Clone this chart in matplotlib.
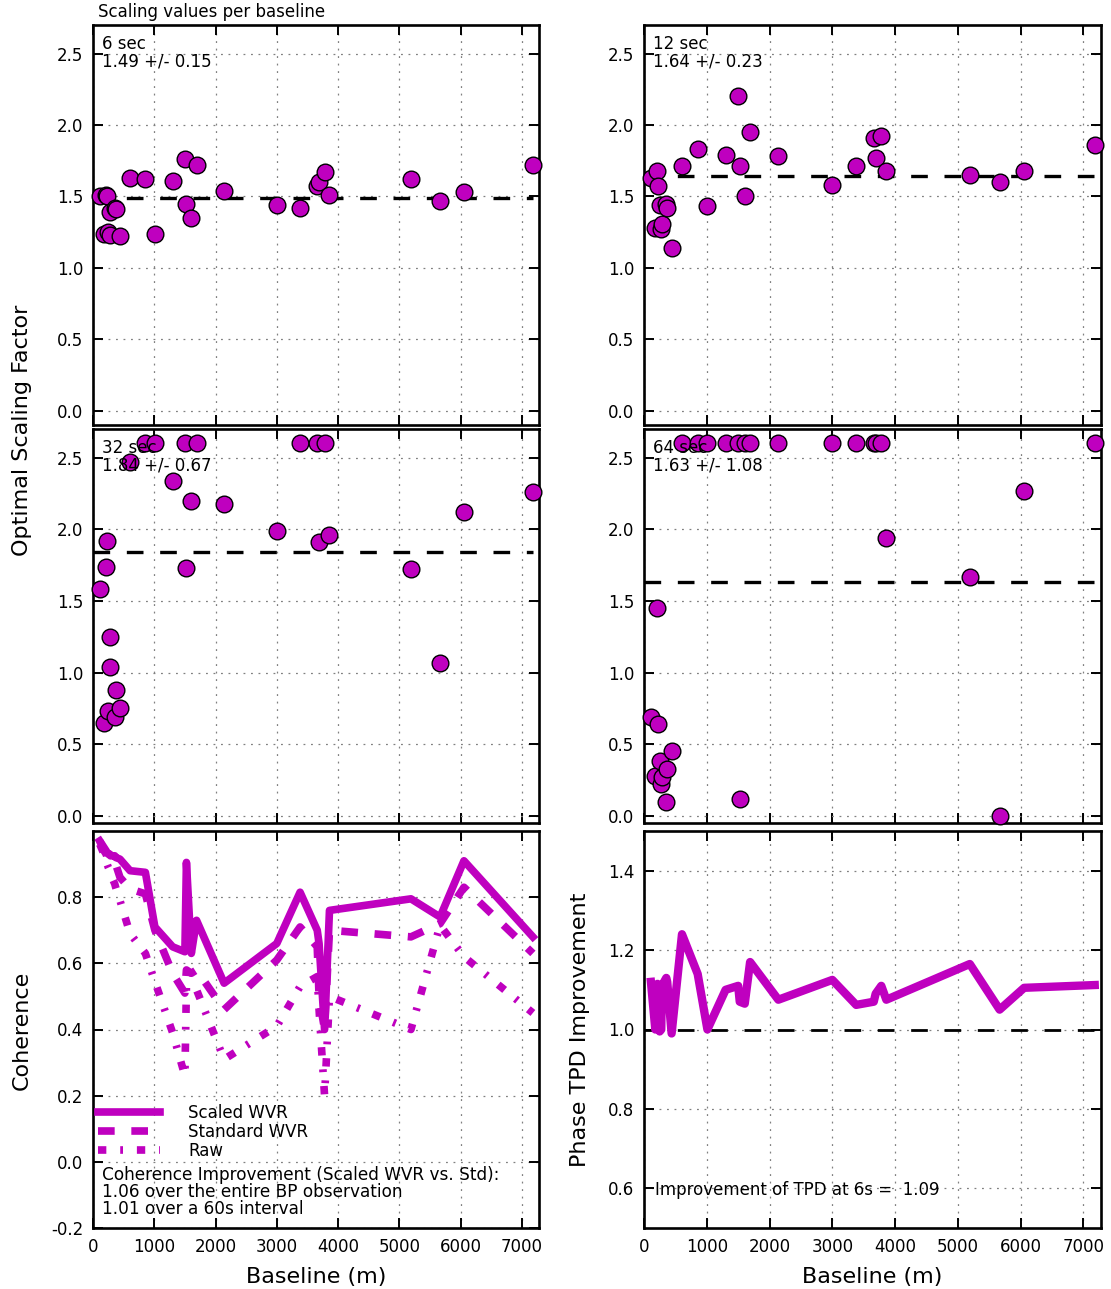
import numpy as np
import matplotlib
matplotlib.use("Agg")
import matplotlib.pyplot as plt

plt.rcParams["axes.unicode_minus"] = False

# ---------------- data ----------------
baselines = [110, 180, 215, 230, 250, 275, 285, 355, 370, 440, 605, 855, 1010, 1300,
             1500, 1525, 1605, 1690, 2140, 3000, 3380, 3660, 3690, 3780, 3860, 5190,
             5665, 6055, 7180]

scale_6s = [1.50, 1.24, 1.51, 1.50, 1.25, 1.39, 1.23, 1.42, 1.41, 1.22, 1.63, 1.62, 1.24, 1.61,
            1.76, 1.45, 1.35, 1.72, 1.54, 1.44, 1.42, 1.57, 1.60, 1.67, 1.51, 1.62, 1.47,
            1.53, 1.72]
scale_12s = [1.63, 1.28, 1.68, 1.57, 1.44, 1.27, 1.31, 1.45, 1.42, 1.14, 1.71, 1.83, 1.43, 1.79,
             2.20, 1.71, 1.50, 1.95, 1.78, 1.58, 1.71, 1.91, 1.77, 1.92, 1.68, 1.65, 1.60,
             1.68, 1.86]
scale_32s = [1.58, 0.65, 1.74, 1.92, 0.73, 1.25, 1.04, 0.69, 0.875, 0.75, 2.47, 2.60, 2.60, 2.34,
             2.60, 1.73, 2.20, 2.60, 2.18, 1.99, 2.60, 2.60, 1.91, 2.60, 1.96, 1.72, 1.07,
             2.12, 2.26]
scale_64s = [0.69, 0.28, 1.45, 0.64, 0.38, 0.22, 0.27, 0.10, 0.33, 0.45, 2.60, 2.60, 2.60, 2.60,
             2.60, 0.12, 2.60, 2.60, 2.60, 2.60, 2.60, 2.60, 2.60, 2.60, 1.94, 1.67, 0.00,
             2.27, 2.60]

intervals = ["6 sec", "12 sec", "32 sec", "64 sec"]
means = [1.49, 1.64, 1.84, 1.63]
stds = [0.15, 0.23, 0.67, 1.08]

coh_scaled = [0.97, 0.95, 0.94, 0.935, 0.93, 0.93, 0.925, 0.925, 0.92, 0.915, 0.88, 0.875, 0.71,
              0.65, 0.635, 0.905, 0.63, 0.73, 0.54, 0.66, 0.815, 0.70, 0.66, 0.40, 0.76, 0.795,
              0.74, 0.91, 0.68]
coh_std = [0.97, 0.94, 0.93, 0.92, 0.92, 0.91, 0.91, 0.90, 0.90, 0.86, 0.825, 0.81, 0.70,
           0.57, 0.51, 0.58, 0.57, 0.58, 0.46, 0.61, 0.71, 0.65, 0.50, 0.40, 0.70, 0.68,
           0.72, 0.83, 0.63]
coh_raw = [0.96, 0.93, 0.91, 0.90, 0.89, 0.88, 0.87, 0.84, 0.83, 0.79, 0.69, 0.63, 0.545,
           0.39, 0.26, 0.53, 0.52, 0.52, 0.31, 0.41, 0.53, 0.56, 0.46, 0.20, 0.50, 0.40,
           0.715, 0.62, 0.45]
tpd_improvement = [1.12, 1.00, 1.115, 1.00, 0.995, 1.00, 1.11, 1.13, 1.12, 0.99, 1.24, 1.14, 1.00,
                   1.10, 1.11, 1.07, 1.065, 1.17, 1.075, 1.125, 1.062, 1.07, 1.09, 1.11, 1.075,
                   1.165, 1.05, 1.105, 1.112]

coh_text = ("Coherence Improvement (Scaled WVR vs. Std):\n"
            "1.06 over the entire BP observation\n"
            "1.01 over a 60s interval")
tpd_text = "Improvement of TPD at 6s =  1.09"
xticks = [0, 1000, 2000, 3000, 4000, 5000, 6000, 7000]

# ---------------- figure ----------------
W, H = 1111, 1289
fig = plt.figure(figsize=(W / 100, H / 100), dpi=100)
MAG = (0.75, 0.0, 0.75)


def add(xl, xr, yt, yb):
    return fig.add_axes([xl / W, 1 - yb / H, (xr - xl) / W, (yb - yt) / H])


def style(ax, labelx):
    ax.tick_params(direction="in", length=7, width=1.4, top=True, right=True,
                   labelsize=12, pad=7)
    for s in ax.spines.values():
        s.set_linewidth(1.9)
    ax.grid(True, color="0.5", linestyle=(0, (1.5, 4.5)), linewidth=0.9)
    ax.set_xlim(0, 7280)
    ax.set_xticks(xticks)
    if not labelx:
        ax.set_xticklabels([])


cols = [(93, 539), (644, 1101)]
rows_sc = [(25, 425, (-0.1, 2.7)), (429, 823, (-0.05, 2.7))]
series = [scale_6s, scale_12s, scale_32s, scale_64s]

k = 0
for (yt, yb, ylim) in rows_sc:
    for (xl, xr) in cols:
        ax = add(xl, xr, yt, yb)
        style(ax, False)
        ax.set_ylim(*ylim)
        ax.set_yticks([0.0, 0.5, 1.0, 1.5, 2.0, 2.5])
        ax.plot([0, max(baselines)], [means[k], means[k]], color="k", lw=2.4,
                ls=(0, (5, 5)), zorder=2)
        ax.plot(baselines, series[k], "o", ms=12, mfc=MAG, mec="k", mew=1.0, zorder=3,
                clip_on=False)
        ax.text(0.02, 0.975, f"{intervals[k]}\n{means[k]:.2f} +/- {stds[k]:.2f}",
                transform=ax.transAxes, ha="left", va="top", fontsize=12,
                linespacing=0.95, zorder=4)
        k += 1

# coherence panel
ax = add(93, 539, 831, 1228)
style(ax, True)
ax.set_ylim(-0.2, 1.0)
ax.set_yticks([-0.2, 0.0, 0.2, 0.4, 0.6, 0.8])
lw = 5.5
ax.plot(baselines, coh_scaled, color=MAG, lw=lw, ls="-", label="Scaled WVR")
ax.plot(baselines, coh_std, color=MAG, lw=lw, ls=(0, (12 / lw, 12 / lw)), label="Standard WVR")
ax.plot(baselines, coh_raw, color=MAG, lw=lw,
        ls=(0, (6 / lw, 10 / lw, 2 / lw, 10 / lw)), label="Raw")
leg = ax.legend(loc="upper left", bbox_to_anchor=(0.0, 0.325), frameon=False, fontsize=12,
                handlelength=3.7, handletextpad=1.7, labelspacing=0.05, borderpad=0.1,
                borderaxespad=0.2)
ax.text(0.02, 0.157, coh_text, transform=ax.transAxes, ha="left", va="top", fontsize=12.2,
        linespacing=0.95)
ax.set_xlabel("Baseline (m)", fontsize=16, labelpad=8)

# TPD panel
ax = add(644, 1101, 831, 1228)
style(ax, True)
ax.set_ylim(0.5, 1.5)
ax.set_yticks([0.6, 0.8, 1.0, 1.2, 1.4])
ax.axhline(1.0, color="k", lw=2.0, ls=(0, (6, 6)))
ax.plot(baselines, tpd_improvement, color=MAG, lw=6)
ax.text(0.024, 0.096, tpd_text, transform=ax.transAxes, ha="left", va="center", fontsize=12)
ax.set_xlabel("Baseline (m)", fontsize=16, labelpad=8)

# figure texts
fig.text(98 / W, 1 - 12 / H, "Scaling values per baseline", ha="left", va="center", fontsize=12)
fig.text(22 / W, 1 - 430 / H, "Optimal Scaling Factor", rotation=90, ha="center",
         va="center", fontsize=16)
fig.text(22 / W, 1 - 1030 / H, "Coherence", rotation=90, ha="center", va="center", fontsize=16)
fig.text(580 / W, 1 - 1030 / H, "Phase TPD Improvement", rotation=90, ha="center",
         va="center", fontsize=16)

fig.savefig("out.png", dpi=100)
